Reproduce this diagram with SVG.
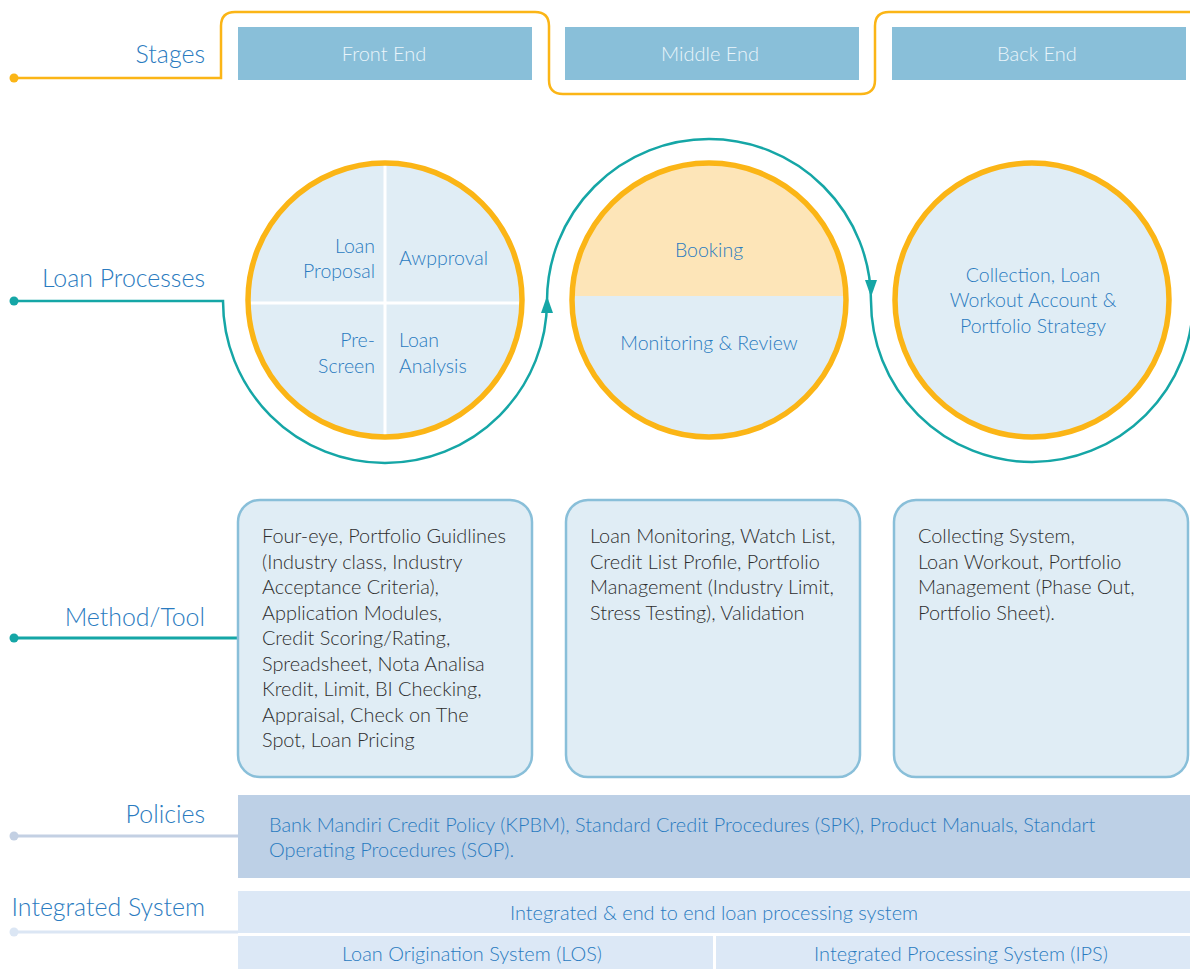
<svg xmlns="http://www.w3.org/2000/svg" width="1190" height="969" viewBox="0 0 1190 969">
<defs>
<style>
.lbl{font-family:Lato,"Open Sans","Liberation Sans",sans-serif;font-weight:300;font-size:24.9px;fill:#2a7bc0;text-anchor:end}
.stg{fill:#89bfd9}
.stt{font-family:Lato,"Open Sans","Liberation Sans",sans-serif;font-weight:300;font-size:20px;fill:#eaf5fb;text-anchor:middle}
.ct{font-family:Lato,"Open Sans","Liberation Sans",sans-serif;font-weight:300;font-size:19.5px;fill:#2a7bc0}
.pt{font-family:Lato,"Open Sans","Liberation Sans",sans-serif;font-weight:300;font-size:19.9px;fill:#2a7bc0}
.ring{fill:none;stroke:#fbb516;stroke-width:5.5}
.mbox{fill:#e0edf5;stroke:#89bfd9;stroke-width:2.5}
.mt{font-family:Lato,"Open Sans","Liberation Sans",sans-serif;font-weight:300;font-size:19.9px;fill:#2e2e2e}
.teal{fill:none;stroke:#15a6a6;stroke-width:2.5}
</style>
<clipPath id="c2clip"><circle cx="709" cy="300" r="137"/></clipPath>
</defs>
<rect width="1190" height="969" fill="#ffffff"/>

<g id="connectors">
<path d="M14 78 H221 V26 Q221 12 235 12 H535 Q549 12 549 26 V80 Q549 94 563 94 H861 Q875 94 875 80 V26 Q875 12 889 12 H1190" fill="none" stroke="#fbb516" stroke-width="2.5"/>
<circle cx="14" cy="78" r="4.5" fill="#fbb516"/>
<path class="teal" d="M14 301 H223 A162 162 0 0 0 547 301 A162 162 0 0 1 871 301 A161 161 0 0 0 1193 301"/>
<circle cx="14" cy="301" r="4.5" fill="#15a6a6"/>
<polygon points="547,296 541,313 553,313" fill="#15a6a6"/>
<polygon points="871,297 865,280 877,280" fill="#15a6a6"/>
<line x1="14" y1="638" x2="238" y2="638" stroke="#15a6a6" stroke-width="3"/>
<circle cx="14" cy="638" r="4.5" fill="#15a6a6"/>
<line x1="14" y1="836" x2="238" y2="836" stroke="#c3d0e3" stroke-width="3"/>
<circle cx="14" cy="836" r="4.5" fill="#c3d0e3"/>
<line x1="14" y1="932" x2="238" y2="932" stroke="#dbe6f4" stroke-width="3"/>
<circle cx="14" cy="932" r="4.5" fill="#dbe6f4"/>
</g>

<g id="labels">
<text class="lbl" x="205" y="63">Stages</text>
<text class="lbl" x="205" y="287">Loan Processes</text>
<text class="lbl" x="205" y="626">Method/Tool</text>
<text class="lbl" x="205" y="823">Policies</text>
<text class="lbl" x="205" y="916">Integrated System</text>
</g>

<g id="stage-front">
<rect class="stg" x="238" y="27" width="294" height="53"/>
<text class="stt" x="384" y="61">Front End</text>
</g>
<g id="stage-middle">
<rect class="stg" x="565" y="27" width="294" height="53"/>
<text class="stt" x="710" y="61">Middle End</text>
</g>
<g id="stage-back">
<rect class="stg" x="892" y="27" width="294" height="53"/>
<text class="stt" x="1037" y="61">Back End</text>
</g>

<g id="circle-front">
<circle cx="385" cy="300" r="137" fill="#e0edf5"/>
<line x1="385" y1="163" x2="385" y2="437" stroke="#ffffff" stroke-width="3"/>
<line x1="248" y1="303" x2="522" y2="303" stroke="#ffffff" stroke-width="3"/>
<circle class="ring" cx="385" cy="300" r="137"/>
<text class="ct" text-anchor="end"><tspan x="375" y="253">Loan</tspan><tspan x="375" y="278">Proposal</tspan></text>
<text class="ct" x="399" y="265">Awpproval</text>
<text class="ct" text-anchor="end"><tspan x="375" y="347">Pre-</tspan><tspan x="375" y="373">Screen</tspan></text>
<text class="ct"><tspan x="399" y="347">Loan</tspan><tspan x="399" y="373">Analysis</tspan></text>
</g>

<g id="circle-middle">
<g clip-path="url(#c2clip)">
<rect x="570" y="160" width="280" height="136" fill="#fde5b8"/>
<rect x="570" y="296" width="280" height="145" fill="#e0edf5"/>
</g>
<circle class="ring" cx="709" cy="300" r="137"/>
<text class="ct" x="709" y="257" text-anchor="middle">Booking</text>
<text class="ct" x="709" y="350" text-anchor="middle">Monitoring &amp; Review</text>
</g>

<g id="circle-back">
<circle cx="1032" cy="300" r="137" fill="#e0edf5"/>
<circle class="ring" cx="1032" cy="300" r="137"/>
<text class="ct" text-anchor="middle"><tspan x="1033" y="282">Collection, Loan</tspan><tspan x="1033" y="307">Workout Account &amp;</tspan><tspan x="1033" y="333">Portfolio Strategy</tspan></text>
</g>

<g id="method-front">
<rect class="mbox" x="238" y="500" width="294" height="277" rx="22"/>
<text class="mt">
<tspan x="262" y="543">Four-eye, Portfolio Guidlines</tspan>
<tspan x="262" y="568.5">(Industry class, Industry</tspan>
<tspan x="262" y="594">Acceptance Criteria),</tspan>
<tspan x="262" y="619.5">Application Modules,</tspan>
<tspan x="262" y="645">Credit Scoring/Rating,</tspan>
<tspan x="262" y="670.5">Spreadsheet, Nota Analisa</tspan>
<tspan x="262" y="696">Kredit, Limit, BI Checking,</tspan>
<tspan x="262" y="721.5">Appraisal, Check on The</tspan>
<tspan x="262" y="747">Spot, Loan Pricing</tspan>
</text>
</g>
<g id="method-middle">
<rect class="mbox" x="566" y="500" width="294" height="277" rx="22"/>
<text class="mt">
<tspan x="590" y="543">Loan Monitoring, Watch List,</tspan>
<tspan x="590" y="568.5">Credit List Profile, Portfolio</tspan>
<tspan x="590" y="594">Management (Industry Limit,</tspan>
<tspan x="590" y="619.5">Stress Testing), Validation</tspan>
</text>
</g>
<g id="method-back">
<rect class="mbox" x="894" y="500" width="294" height="277" rx="22"/>
<text class="mt">
<tspan x="918" y="543">Collecting System,</tspan>
<tspan x="918" y="568.5">Loan Workout, Portfolio</tspan>
<tspan x="918" y="594">Management (Phase Out,</tspan>
<tspan x="918" y="619.5">Portfolio Sheet).</tspan>
</text>
</g>

<g id="policies">
<rect x="238" y="795" width="952" height="83" fill="#bdd0e6"/>
<text class="pt"><tspan x="269" y="832">Bank Mandiri Credit Policy (KPBM), Standard Credit Procedures (SPK), Product Manuals, Standart</tspan><tspan x="269" y="857">Operating Procedures (SOP).</tspan></text>
</g>

<g id="integrated-system">
<rect x="238" y="891" width="952" height="42" fill="#dce8f6"/>
<text class="pt" x="714" y="920" text-anchor="middle">Integrated &amp; end to end loan processing system</text>
</g>
<g id="los">
<rect x="238" y="936" width="475" height="33" fill="#dce8f6"/>
<text class="pt" x="472" y="961" text-anchor="middle">Loan Origination System (LOS)</text>
</g>
<g id="ips">
<rect x="716" y="936" width="474" height="33" fill="#dce8f6"/>
<text class="pt" x="961" y="961" text-anchor="middle">Integrated Processing System (IPS)</text>
</g>
</svg>
